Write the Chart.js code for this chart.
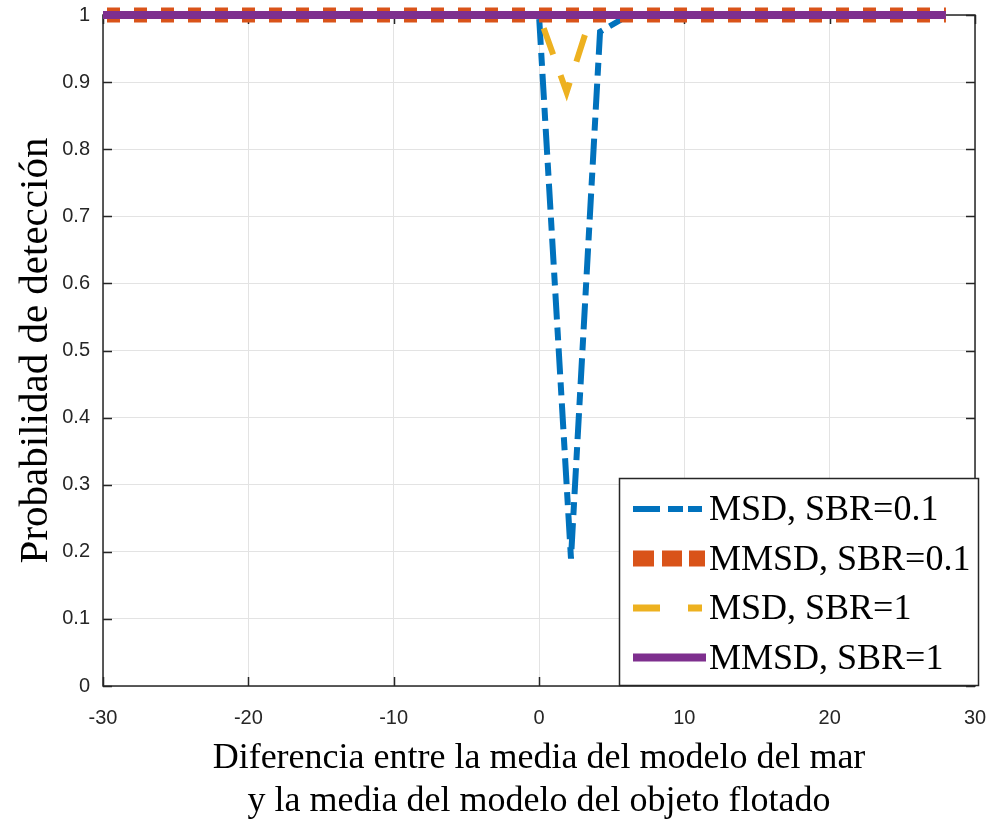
<!DOCTYPE html>
<html>
<head>
<meta charset="utf-8">
<script src="https://cdn.jsdelivr.net/npm/chart.js@4"></script>
<style>
  html, body { margin: 0; padding: 0; background: #fff; }
  #wrap { width: 990px; height: 824px; }
</style>
</head>
<body>
<div id="wrap"><canvas id="chart" width="990" height="824"></canvas></div>
<script>
// x positions and detection probabilities for each curve
const msd01X = [-30, 0, 2.2, 4.2, 6.2, 28];
const msd01Y = [1, 1, 0.19, 0.975, 1, 1];
const mmsd01X = [-30, 28];
const mmsd01Y = [1, 1];
const msd1X = [-30, 0, 1.9, 3.6, 28];
const msd1Y = [1, 1, 0.885, 1, 1];
const mmsd1X = [-30, 28];
const mmsd1Y = [1, 1];

const seriesLabels = ["MSD, SBR=0.1", "MMSD, SBR=0.1", "MSD, SBR=1", "MMSD, SBR=1"];

const xTickValues = [-30, -20, -10, 0, 10, 20, 30];
const xTickLabels = ["-30", "-20", "-10", "0", "10", "20", "30"];
const yTickValues = [0, 0.1, 0.2, 0.3, 0.4, 0.5, 0.6, 0.7, 0.8, 0.9, 1];
const yTickLabels = ["0", "0.1", "0.2", "0.3", "0.4", "0.5", "0.6", "0.7", "0.8", "0.9", "1"];

const AXIS = "#262626";
const SERIF = "'Liberation Serif', 'Times New Roman', serif";
const SANS = "'Liberation Sans', Arial, sans-serif";

function pts(xs, ys) {
  return xs.map((x, i) => ({ x: x, y: ys[i] }));
}

// no extra room for overhanging tick labels, layout padding decides the plot box
function noOverhang(s) {
  s.paddingLeft = 0;
  s.paddingRight = 0;
  s.paddingTop = 0;
  s.paddingBottom = 0;
}

// box, inward tick marks (drawn under the curves)
const frame = {
  id: "frame",
  beforeDatasetsDraw(chart) {
    const { ctx, chartArea: a, scales } = chart;
    const len = 9;
    ctx.save();
    ctx.strokeStyle = AXIS;
    ctx.lineWidth = 1.5;
    ctx.beginPath();
    xTickValues.forEach(v => {
      const px = Math.round(scales.x.getPixelForValue(v)) + 0.5;
      ctx.moveTo(px, a.bottom); ctx.lineTo(px, a.bottom - len);
      ctx.moveTo(px, a.top); ctx.lineTo(px, a.top + len);
    });
    yTickValues.forEach(v => {
      const py = Math.round(scales.y.getPixelForValue(v)) + 0.5;
      ctx.moveTo(a.left, py); ctx.lineTo(a.left + len, py);
      ctx.moveTo(a.right, py); ctx.lineTo(a.right - len, py);
    });
    ctx.stroke();
    ctx.strokeRect(a.left, a.top, a.right - a.left, a.bottom - a.top);
    ctx.restore();
  }
};

// legend box in the lower right corner
const boxLegend = {
  id: "boxLegend",
  afterDatasetsDraw(chart) {
    const { ctx, chartArea: a } = chart;
    const x0 = a.right - 356, y0 = a.bottom - 208, w = 359, h = 207;
    ctx.save();
    ctx.fillStyle = "#fff";
    ctx.fillRect(x0, y0, w, h);
    ctx.strokeStyle = AXIS;
    ctx.lineWidth = 1.5;
    ctx.strokeRect(x0 + 0.5, y0 + 0.5, w, h);
    chart.data.datasets.forEach((ds, i) => {
      const cy = y0 + 31 + i * 49.5;
      ctx.strokeStyle = ds.borderColor;
      ctx.lineWidth = ds.legendWidth;
      ctx.setLineDash(ds.legendDash);
      ctx.lineCap = "butt";
      ctx.beginPath();
      ctx.moveTo(x0 + 14, cy);
      ctx.lineTo(x0 + 87, cy);
      ctx.stroke();
      ctx.setLineDash([]);
      ctx.fillStyle = "#000";
      ctx.font = "36px " + SERIF;
      ctx.textBaseline = "middle";
      ctx.textAlign = "left";
      ctx.fillText(ds.label, x0 + 90, cy + 2);
    });
    ctx.restore();
  }
};

const ctx = document.getElementById("chart");
new Chart(ctx, {
  type: "line",
  data: {
    datasets: [
      {
        label: seriesLabels[0],
        data: pts(msd01X, msd01Y),
        borderColor: "#0072BD",
        borderWidth: 6,
        borderDash: [26, 8, 13, 8],
        legendWidth: 6,
        legendDash: [27, 8, 15, 5, 14, 10],
        order: 3
      },
      {
        label: seriesLabels[1],
        data: pts(mmsd01X, mmsd01Y),
        borderColor: "#D95319",
        borderWidth: 15,
        borderDash: [13, 14],
        borderDashOffset: -4,
        legendWidth: 16,
        legendDash: [21, 8, 20, 7, 16, 10],
        order: 2
      },
      {
        label: seriesLabels[2],
        data: pts(msd1X, msd1Y),
        borderColor: "#EDB120",
        borderWidth: 6,
        borderDash: [28, 22],
        legendWidth: 7,
        legendDash: [27, 28, 14, 10],
        order: 1
      },
      {
        label: seriesLabels[3],
        data: pts(mmsd1X, mmsd1Y),
        borderColor: "#7E2F8E",
        borderWidth: 8,
        borderDash: [],
        legendWidth: 8,
        legendDash: [],
        order: 0
      }
    ]
  },
  options: {
    responsive: false,
    animation: false,
    clip: false,
    layout: { padding: { top: 15, right: 15, left: 0, bottom: 0 } },
    elements: {
      point: { radius: 0 },
      line: { tension: 0, fill: false, borderCapStyle: "butt", borderJoinStyle: "miter" }
    },
    plugins: {
      legend: { display: false },
      tooltip: { enabled: false }
    },
    scales: {
      x: {
        type: "linear",
        min: -30,
        max: 30,
        afterBuildTicks: s => { s.ticks = xTickValues.map(v => ({ value: v })); },
        afterFit: s => { s.height = 138; noOverhang(s); },
        ticks: {
          callback: (v, i) => xTickLabels[i],
          font: { family: SANS, size: 20 },
          color: AXIS,
          padding: 20,
          maxRotation: 0
        },
        grid: { color: "#e3e3e3", lineWidth: 1, drawTicks: false },
        border: { display: false },
        title: {
          display: true,
          text: ["Diferencia entre la media del modelo del mar", "y la media del modelo del objeto flotado"],
          font: { family: SERIF, size: 36, lineHeight: 1.22 },
          color: "#000",
          padding: { top: 0, bottom: 0 }
        }
      },
      y: {
        type: "linear",
        min: 0,
        max: 1,
        afterBuildTicks: s => { s.ticks = yTickValues.map(v => ({ value: v })); },
        afterFit: s => { s.width = 103; noOverhang(s); },
        ticks: {
          callback: (v, i) => yTickLabels[i],
          font: { family: SANS, size: 20 },
          color: AXIS,
          padding: 13
        },
        grid: { color: "#e3e3e3", lineWidth: 1, drawTicks: false },
        border: { display: false },
        title: {
          display: true,
          text: "Probabilidad de detección",
          font: { family: SERIF, size: 41, lineHeight: 1.2 },
          color: "#000",
          padding: { top: 12, bottom: 0 }
        }
      }
    }
  },
  plugins: [frame, boxLegend]
});
</script>
</body>
</html>
